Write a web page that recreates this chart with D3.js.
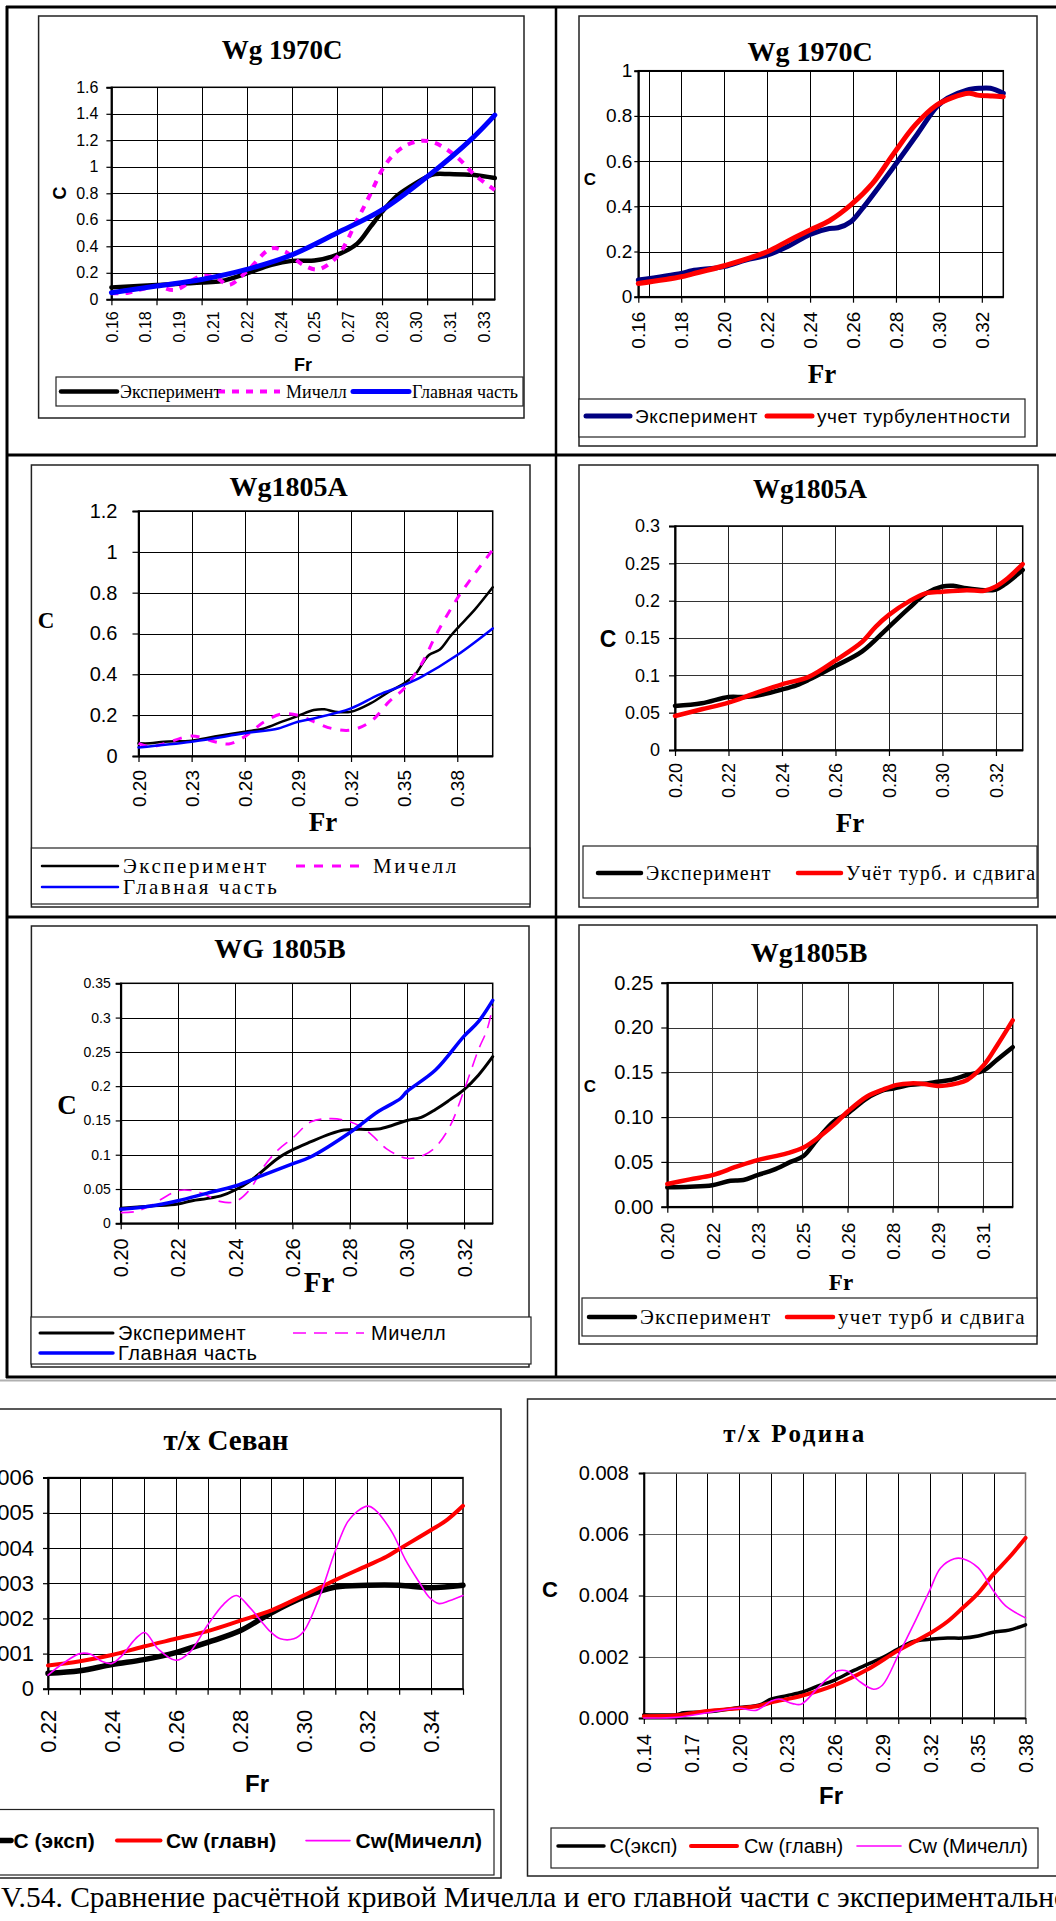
<!DOCTYPE html>
<html>
<head>
<meta charset="utf-8">
<script src="https://cdn.jsdelivr.net/npm/d3@7"></script>
<style>
  html, body { margin: 0; padding: 0; background: #fff; }
  svg { display: block; }
</style>
</head>
<body>
<script>
// ---------- data ----------
// Wg 1970C (Michell): category axis, 35 Fr steps, every 3rd labelled
const p1Cats = ["0.16","0.18","0.19","0.21","0.22","0.24","0.25","0.27","0.28","0.30","0.31","0.33"];
const p1YTicks = [0,0.2,0.4,0.6,0.8,1,1.2,1.4,1.6];
const p1Exp = [[0,0.09],[4,0.108],[8,0.126],[9.75,0.138],[12,0.196],[14.2,0.26],[16,0.29],[18,0.293],[20,0.335],[21.8,0.42],[23,0.55],[24,0.66],[25.25,0.775],[26.5,0.85],[28,0.925],[28.7,0.945],[30,0.945],[32,0.94],[34,0.915]];
const p1Mich = [[0,0.045],[1.5,0.05],[4,0.1],[5.6,0.07],[8,0.176],[9.4,0.158],[10.4,0.108],[12,0.21],[14.2,0.385],[15.4,0.36],[17,0.26],[18.3,0.226],[20,0.32],[21.8,0.6],[23,0.8],[24,0.976],[25,1.09],[26.2,1.165],[27.5,1.197],[28.7,1.18],[30.6,1.077],[32.2,0.94],[34,0.825]];
const p1Main = [[0,0.05],[4,0.1],[8,0.15],[12,0.226],[16,0.335],[20,0.5],[24,0.674],[28,0.925],[32,1.215],[34,1.39]];

// Wg 1970C (turbulence)
const p2XTicks = [0.16,0.18,0.20,0.22,0.24,0.26,0.28,0.30,0.32];
const p2YTicks = [0,0.2,0.4,0.6,0.8,1];
const p2Exp = [[0.16,0.074],[0.18,0.103],[0.185,0.115],[0.20,0.133],[0.21,0.162],[0.22,0.184],[0.23,0.224],[0.24,0.276],[0.249,0.302],[0.253,0.305],[0.259,0.332],[0.264,0.386],[0.279,0.575],[0.29,0.72],[0.299,0.84],[0.304,0.878],[0.313,0.914],[0.319,0.922],[0.324,0.922],[0.33,0.9]];
const p2Turb = [[0.16,0.058],[0.18,0.088],[0.185,0.1],[0.20,0.137],[0.22,0.199],[0.23,0.248],[0.24,0.295],[0.249,0.336],[0.259,0.406],[0.269,0.5],[0.279,0.634],[0.289,0.76],[0.299,0.848],[0.306,0.88],[0.314,0.9],[0.318,0.892],[0.325,0.888],[0.33,0.885]];

// Wg1805A (Michell)
const p3XTicks = [0.20,0.23,0.26,0.29,0.32,0.35,0.38];
const p3YTicks = [0,0.2,0.4,0.6,0.8,1,1.2];
const p3Exp = [[0.20,0.062],[0.2065,0.062],[0.2145,0.07],[0.23,0.075],[0.243,0.095],[0.26,0.119],[0.271,0.135],[0.281,0.168],[0.29,0.196],[0.299,0.225],[0.305,0.229],[0.311,0.217],[0.32,0.217],[0.331,0.258],[0.3415,0.315],[0.35,0.356],[0.356,0.397],[0.364,0.495],[0.37,0.52],[0.376,0.585],[0.38,0.625],[0.39,0.718],[0.40,0.826]];
const p3Mich = [[0.20,0.062],[0.2065,0.046],[0.2145,0.06],[0.23,0.098],[0.243,0.07],[0.251,0.059],[0.26,0.095],[0.271,0.168],[0.281,0.206],[0.29,0.2],[0.299,0.168],[0.309,0.135],[0.32,0.127],[0.331,0.168],[0.3415,0.266],[0.35,0.331],[0.36,0.454],[0.368,0.593],[0.38,0.772],[0.39,0.895],[0.40,1.01]];
const p3Main = [[0.20,0.042],[0.23,0.07],[0.26,0.111],[0.279,0.135],[0.29,0.168],[0.299,0.184],[0.32,0.233],[0.3355,0.299],[0.35,0.348],[0.36,0.389],[0.38,0.495],[0.40,0.625]];

// Wg1805A (turbulence and shear)
const p4XTicks = [0.20,0.22,0.24,0.26,0.28,0.30,0.32];
const p4YTicks = [0,0.05,0.1,0.15,0.2,0.25,0.3];
const p4Exp = [[0.20,0.059],[0.21,0.0625],[0.22,0.071],[0.2256,0.071],[0.23,0.0723],[0.24,0.081],[0.2456,0.087],[0.25,0.094],[0.26,0.1125],[0.27,0.132],[0.28,0.165],[0.2875,0.19],[0.294,0.21],[0.30,0.219],[0.304,0.22],[0.309,0.2165],[0.3156,0.214],[0.32,0.215],[0.323,0.221],[0.33,0.241]];
const p4Turb = [[0.20,0.0455],[0.21,0.0545],[0.22,0.0634],[0.23,0.076],[0.24,0.088],[0.25,0.098],[0.26,0.12],[0.27,0.145],[0.275,0.165],[0.28,0.181],[0.2875,0.199],[0.294,0.21],[0.30,0.212],[0.309,0.214],[0.3156,0.2134],[0.32,0.219],[0.3244,0.23],[0.33,0.249]];

// WG 1805B (Michell)
const p5XTicks = [0.20,0.22,0.24,0.26,0.28,0.30,0.32];
const p5YTicks = [0,0.05,0.1,0.15,0.2,0.25,0.3,0.35];
const p5Exp = [[0.20,0.0219],[0.21,0.025],[0.22,0.028],[0.225,0.033],[0.23,0.036],[0.235,0.04],[0.24,0.0486],[0.245,0.061],[0.25,0.078],[0.255,0.095],[0.26,0.107],[0.2665,0.119],[0.273,0.13],[0.278,0.136],[0.283,0.137],[0.29,0.1375],[0.295,0.143],[0.30,0.15],[0.305,0.1545],[0.31,0.166],[0.315,0.18],[0.32,0.195],[0.325,0.216],[0.33,0.243]];
const p5Mich = [[0.20,0.0155],[0.205,0.017],[0.21,0.025],[0.22,0.0476],[0.225,0.0476],[0.23,0.041],[0.235,0.0316],[0.24,0.0316],[0.245,0.0486],[0.25,0.0826],[0.255,0.107],[0.26,0.124],[0.2665,0.148],[0.273,0.1526],[0.278,0.1506],[0.283,0.143],[0.2877,0.129],[0.2928,0.109],[0.30,0.0948],[0.306,0.0996],[0.31,0.111],[0.315,0.141],[0.32,0.194],[0.325,0.253],[0.328,0.282],[0.33,0.316]];
const p5Main = [[0.20,0.0204],[0.21,0.025],[0.22,0.033],[0.23,0.0437],[0.24,0.0544],[0.25,0.0705],[0.26,0.0865],[0.2665,0.097],[0.28,0.132],[0.29,0.163],[0.2978,0.182],[0.30,0.192],[0.31,0.2235],[0.32,0.273],[0.325,0.294],[0.33,0.325]];

// Wg1805B (turbulence and shear): category axis, 24 Fr steps, every 3rd labelled
const p6Cats = ["0.20","0.22","0.23","0.25","0.26","0.28","0.29","0.31"];
const p6YTicks = [0,0.05,0.1,0.15,0.2,0.25];
const p6Exp = [[0,0.0216],[1.5,0.0223],[3,0.024],[4.2,0.029],[5.07,0.0298],[6,0.0353],[7.07,0.041],[8.2,0.05],[9.07,0.0565],[9.96,0.0744],[11.07,0.0949],[12,0.104],[13.3,0.121],[14.4,0.13],[15.07,0.132],[16.2,0.136],[17.3,0.1376],[18,0.1395],[18.84,0.1414],[19.96,0.147],[21.07,0.152],[21.96,0.164],[23,0.178]];
const p6Turb = [[0,0.0253],[1.5,0.0305],[3,0.0353],[4.6,0.0446],[6,0.052],[7.96,0.0595],[9.07,0.066],[10.2,0.079],[11.07,0.091],[12,0.106],[13.3,0.123],[14.4,0.131],[15.3,0.136],[16.2,0.1376],[17.1,0.137],[18,0.1347],[19.3,0.1376],[19.96,0.1414],[21.07,0.158],[21.96,0.18],[23,0.208]];

// т/х Севан
const p7XGrid = [0.22,0.23,0.24,0.25,0.26,0.27,0.28,0.29,0.30,0.31,0.32,0.33,0.34];
const p7XTicks = [0.22,0.24,0.26,0.28,0.30,0.32,0.34];
const p7YTicks = [0,0.001,0.002,0.003,0.004,0.005,0.006];
const p7Exp = [[0.22,0.00044],[0.23,0.00051],[0.24,0.00069],[0.25,0.00083],[0.26,0.00103],[0.27,0.00132],[0.28,0.00164],[0.29,0.00216],[0.30,0.0026],[0.31,0.00289],[0.32,0.00294],[0.33,0.00294],[0.34,0.00287],[0.35,0.00294]];
const p7Main = [[0.22,0.00066],[0.23,0.00078],[0.24,0.00096],[0.25,0.0012],[0.26,0.00142],[0.27,0.00164],[0.28,0.00193],[0.29,0.00223],[0.30,0.00265],[0.31,0.00309],[0.32,0.0035],[0.326,0.00375],[0.33,0.00397],[0.34,0.00451],[0.345,0.0048],[0.35,0.0052]];
const p7Mich = [[0.22,0.00039],[0.225,0.00074],[0.23,0.001],[0.2334,0.00098],[0.2368,0.00078],[0.24,0.00072],[0.243,0.00093],[0.2474,0.00142],[0.2503,0.0016],[0.2545,0.00113],[0.26,0.00081],[0.2643,0.00103],[0.27,0.00181],[0.275,0.0024],[0.279,0.00265],[0.2833,0.0023],[0.2897,0.00162],[0.2928,0.00142],[0.297,0.00142],[0.30,0.00162],[0.3046,0.0025],[0.31,0.00392],[0.3139,0.00475],[0.317,0.00505],[0.3202,0.00519],[0.3223,0.0051],[0.3277,0.00446],[0.3319,0.00368],[0.3362,0.00304],[0.3394,0.0026],[0.3425,0.00242],[0.3457,0.0025],[0.35,0.00265]];

// т/х Родина
const p8XGrid = [0.14,0.16,0.18,0.20,0.22,0.24,0.26,0.28,0.30,0.32,0.34,0.36];
const p8XTicks = [0.14,0.17,0.20,0.23,0.26,0.29,0.32,0.35,0.38];
const p8YTicks = [0,0.002,0.004,0.006,0.008];
const p8Exp = [[0.14,0.00011],[0.1606,0.00011],[0.165,0.00017],[0.18,0.0002],[0.20,0.00034],[0.2127,0.00043],[0.2204,0.00062],[0.2299,0.00073],[0.2398,0.00085],[0.2492,0.00104],[0.26,0.00124],[0.2708,0.00152],[0.2806,0.00175],[0.2901,0.00197],[0.2998,0.00225],[0.3095,0.0025],[0.3198,0.00257],[0.331,0.00261],[0.3406,0.00261],[0.3503,0.00268],[0.3596,0.0028],[0.3697,0.00287],[0.38,0.00304]];
const p8Main = [[0.14,0.00006],[0.1606,0.00009],[0.18,0.00023],[0.20,0.00032],[0.2127,0.0004],[0.2204,0.00051],[0.2398,0.00073],[0.26,0.00107],[0.2806,0.00158],[0.2998,0.0022],[0.3198,0.00276],[0.331,0.00315],[0.3406,0.0036],[0.3503,0.00408],[0.3596,0.00468],[0.3697,0.00524],[0.38,0.00588]];
const p8Mich = [[0.14,0.0],[0.1606,0.00002],[0.18,0.00017],[0.20,0.00032],[0.2105,0.00025],[0.2204,0.00056],[0.225,0.00062],[0.2336,0.00047],[0.239,0.00045],[0.249,0.00096],[0.2557,0.0013],[0.262,0.00154],[0.2685,0.00152],[0.275,0.00122],[0.2845,0.00094],[0.29,0.00107],[0.2998,0.00203],[0.3095,0.00304],[0.3198,0.00417],[0.3266,0.0049],[0.3352,0.0052],[0.3406,0.0052],[0.3503,0.0049],[0.3596,0.00417],[0.3675,0.00366],[0.38,0.00327]];

const captionText = "V.54. Сравнение расчётной кривой Мичелла и его главной части с экспериментальной";

// ---------- drawing ----------
const SANS = "'Liberation Sans', Arial, sans-serif";
const SERIF = "'Liberation Serif', 'Times New Roman', serif";

const svg = d3.select("body").append("svg").attr("width", 1056).attr("height", 1921);

// page table around the six upper charts
const table = svg.append("g").attr("stroke", "#000").attr("fill", "none");
table.append("line").attr("x1", 6).attr("x2", 1056).attr("y1", 7).attr("y2", 7).attr("stroke-width", 3);
table.append("line").attr("x1", 6).attr("x2", 1056).attr("y1", 455).attr("y2", 455).attr("stroke-width", 3);
table.append("line").attr("x1", 6).attr("x2", 1056).attr("y1", 917).attr("y2", 917).attr("stroke-width", 3);
table.append("line").attr("x1", 6).attr("x2", 1056).attr("y1", 1377).attr("y2", 1377).attr("stroke-width", 3);
table.append("line").attr("x1", 0).attr("x2", 1056).attr("y1", 1380.5).attr("y2", 1380.5).attr("stroke-width", 2).attr("stroke", "#b0b0b0");
table.append("line").attr("x1", 7).attr("x2", 7).attr("y1", 6).attr("y2", 1378).attr("stroke-width", 3);
table.append("line").attr("x1", 556).attr("x2", 556).attr("y1", 6).attr("y2", 1378).attr("stroke-width", 2.5);

function drawChart(o) {
  const g = svg.append("g");
  g.append("rect")
    .attr("x", o.box[0]).attr("y", o.box[1])
    .attr("width", o.box[2] - o.box[0]).attr("height", o.box[3] - o.box[1])
    .attr("fill", "#fff").attr("stroke", "#222").attr("stroke-width", 1.5);

  const x = d3.scaleLinear().domain(o.xDomain).range([o.plot[0], o.plot[2]]);
  const y = d3.scaleLinear().domain(o.yDomain).range([o.plot[3], o.plot[1]]);

  // grid
  const grid = g.append("g").attr("fill", "none").attr("stroke-width", 1);
  o.yTicks.forEach(v => {
    grid.append("line").attr("x1", o.plot[0]).attr("x2", o.plot[2])
      .attr("y1", Math.round(y(v)) + 0.5).attr("y2", Math.round(y(v)) + 0.5)
      .attr("stroke", o.gridH || "#000");
  });
  o.xGrid.forEach(v => {
    grid.append("line").attr("y1", o.plot[1]).attr("y2", o.plot[3])
      .attr("x1", Math.round(x(v)) + 0.5).attr("x2", Math.round(x(v)) + 0.5)
      .attr("stroke", o.gridV || "#000");
  });
  // plot frame
  g.append("rect")
    .attr("x", o.plot[0]).attr("y", o.plot[1])
    .attr("width", o.plot[2] - o.plot[0]).attr("height", o.plot[3] - o.plot[1])
    .attr("fill", "none").attr("stroke", o.frame || "#000").attr("stroke-width", 1.5);

  // y axis
  const ya = g.append("g").attr("transform", `translate(${o.plot[0]},0)`)
    .call(d3.axisLeft(y).tickValues(o.yTicks).tickFormat(o.yFmt)
      .tickSize(o.yTickLen).tickPadding(o.yPad));
  ya.select(".domain").attr("stroke", "#000").attr("stroke-width", 2);
  ya.selectAll(".tick line").attr("stroke", "#000").attr("stroke-width", 1.2);
  ya.selectAll(".tick text").attr("font-family", SANS).attr("font-size", o.yFont).attr("fill", "#000");

  // x axis: tick marks
  const xa = g.append("g").attr("transform", `translate(0,${o.plot[3]})`)
    .call(d3.axisBottom(x).tickValues(o.xTickMarks).tickFormat("").tickSize(6).tickSizeOuter(0));
  xa.select(".domain").attr("stroke", "#000").attr("stroke-width", 2);
  xa.selectAll(".tick line").attr("stroke", "#000").attr("stroke-width", 1.2);
  // x axis: rotated labels
  const xl = g.append("g").attr("transform", `translate(0,${o.plot[3]})`)
    .call(d3.axisBottom(x).tickValues(o.xLabelPos).tickFormat((d, i) => o.xLabelText[i]).tickSize(0));
  xl.select(".domain").remove();
  xl.selectAll(".tick text")
    .attr("font-family", SANS).attr("font-size", o.xFont).attr("fill", "#000")
    .attr("transform", "rotate(-90)").attr("text-anchor", "end")
    .attr("x", -o.xGap).attr("y", 0).attr("dy", "0.35em");

  // series
  const clipId = "clip" + Math.random().toString(36).slice(2);
  g.append("clipPath").attr("id", clipId).append("rect")
    .attr("x", o.plot[0] - 4).attr("y", o.plot[1] - 6)
    .attr("width", o.plot[2] - o.plot[0] + 8).attr("height", o.plot[3] - o.plot[1] + 10);
  const line = d3.line().x(d => x(d[0])).y(d => y(d[1])).curve(d3.curveCatmullRom.alpha(0.5));
  o.series.forEach(s => {
    g.append("path").datum(s.data)
      .attr("clip-path", `url(#${clipId})`)
      .attr("d", line).attr("fill", "none")
      .attr("stroke", s.color).attr("stroke-width", s.width)
      .attr("stroke-dasharray", s.dash || null)
      .attr("stroke-linejoin", "round").attr("stroke-linecap", s.dash ? "butt" : "round");
  });

  // title and axis names
  const t = o.title;
  g.append("text").text(t.text).attr("x", t.x).attr("y", t.y)
    .attr("text-anchor", "middle").attr("font-family", SERIF).attr("font-weight", "bold")
    .attr("font-size", t.size).attr("letter-spacing", t.ls || 0).attr("fill", "#000");
  const fr = o.frLabel;
  g.append("text").text("Fr").attr("x", fr.x).attr("y", fr.y)
    .attr("text-anchor", "middle").attr("font-family", fr.serif ? SERIF : SANS)
    .attr("font-weight", "bold").attr("font-size", fr.size).attr("fill", "#000");
  const c = o.cLabel;
  const ct = g.append("text").text("C").attr("font-family", c.serif ? SERIF : SANS)
    .attr("font-weight", "bold").attr("font-size", c.size).attr("fill", "#000")
    .attr("text-anchor", "middle");
  if (c.rotate) {
    ct.attr("transform", `translate(${c.x},${c.y}) rotate(-90)`).attr("dy", "0.35em");
  } else {
    ct.attr("x", c.x).attr("y", c.y);
  }

  // legend
  const L = o.legend;
  g.append("rect").attr("x", L.box[0]).attr("y", L.box[1])
    .attr("width", L.box[2] - L.box[0]).attr("height", L.box[3] - L.box[1])
    .attr("fill", "#fff").attr("stroke", "#222").attr("stroke-width", 1.2);
  L.items.forEach(it => {
    const s = o.series[it.s];
    g.append("line").attr("x1", it.x0).attr("x2", it.x1).attr("y1", it.y).attr("y2", it.y)
      .attr("stroke", s.color).attr("stroke-width", s.width)
      .attr("stroke-dasharray", s.dash || null).attr("stroke-linecap", s.dash ? "butt" : "round");
    g.append("text").text(it.text).attr("x", it.tx).attr("y", it.y).attr("dy", "0.35em")
      .attr("font-family", L.serif ? SERIF : SANS).attr("font-weight", L.bold ? "bold" : "normal")
      .attr("font-size", L.size).attr("letter-spacing", L.ls || 0).attr("fill", "#000");
  });
}

const fmt2 = d3.format(".2f");
const idx = (arr, step) => arr.map((_, i) => i * step);

// Wg 1970C — Michell vs main part
drawChart({
  box: [38.6, 16, 524, 418], plot: [111.4, 87.3, 494.8, 299.3],
  xDomain: [0, 34], yDomain: [0, 1.6],
  yTicks: p1YTicks, yFmt: d => String(d), yFont: 16, yTickLen: 5, yPad: 8,
  xGrid: idx(d3.range(9), 4), xTickMarks: idx(d3.range(9), 4),
  xLabelPos: idx(p1Cats, 3), xLabelText: p1Cats, xFont: 16, xGap: 12,
  series: [
    { data: p1Exp, color: "#000", width: 4.5 },
    { data: p1Mich, color: "#ff00ff", width: 4, dash: "7,7" },
    { data: p1Main, color: "#0000ff", width: 5 }
  ],
  title: { text: "Wg 1970C", x: 282, y: 59, size: 27 },
  frLabel: { x: 303, y: 371, size: 18 },
  cLabel: { x: 59.5, y: 193, size: 18, rotate: true },
  legend: { box: [56, 377, 523, 406], serif: true, size: 18, items: [
    { s: 0, x0: 61, x1: 117, y: 391.5, tx: 120, text: "Эксперимент" },
    { s: 1, x0: 218, x1: 280, y: 391.5, tx: 286, text: "Мичелл" },
    { s: 2, x0: 353, x1: 409, y: 391.5, tx: 412, text: "Главная часть" }
  ] }
});

// Wg 1970C — turbulence
drawChart({
  box: [579, 16, 1037, 446], plot: [638.3, 70.7, 1003.3, 296.7],
  xDomain: [0.16, 0.33], yDomain: [0, 1],
  yTicks: p2YTicks, yFmt: d => String(d), yFont: 19, yTickLen: 4, yPad: 2,
  xGrid: [0.165].concat(p2XTicks), xTickMarks: p2XTicks,
  xLabelPos: p2XTicks, xLabelText: p2XTicks.map(fmt2), xFont: 19, xGap: 15,
  series: [
    { data: p2Exp, color: "#000080", width: 5 },
    { data: p2Turb, color: "#ff0000", width: 5 }
  ],
  title: { text: "Wg 1970C", x: 810, y: 61, size: 28 },
  frLabel: { x: 822, y: 383, size: 27, serif: true },
  cLabel: { x: 590, y: 185, size: 17 },
  legend: { box: [579, 399, 1025, 437], size: 19, ls: 0.6, items: [
    { s: 0, x0: 586, x1: 630, y: 416, tx: 635, text: "Эксперимент" },
    { s: 1, x0: 767, x1: 812, y: 416, tx: 817, text: "учет турбулентности" }
  ] }
});

// Wg1805A — Michell vs main part
drawChart({
  box: [31.4, 465, 530, 907], plot: [138.5, 511, 492.7, 756],
  xDomain: [0.20, 0.40], yDomain: [0, 1.2],
  yTicks: p3YTicks, yFmt: d => String(d), yFont: 20, yTickLen: 6, yPad: 15,
  xGrid: p3XTicks, xTickMarks: p3XTicks,
  xLabelPos: p3XTicks, xLabelText: p3XTicks.map(fmt2), xFont: 19, xGap: 14,
  series: [
    { data: p3Exp, color: "#000", width: 2.5 },
    { data: p3Mich, color: "#ff00ff", width: 3, dash: "9,9" },
    { data: p3Main, color: "#0000ff", width: 2.5 }
  ],
  title: { text: "Wg1805A", x: 288.5, y: 496, size: 28 },
  frLabel: { x: 323, y: 831, size: 27, serif: true },
  cLabel: { x: 46, y: 628, size: 23, serif: true },
  legend: { box: [31.4, 848, 530, 904], serif: true, size: 21, ls: 2.5, items: [
    { s: 0, x0: 42, x1: 118, y: 866, tx: 123, text: "Эксперимент" },
    { s: 1, x0: 296, x1: 368, y: 866, tx: 373, text: "Мичелл" },
    { s: 2, x0: 42, x1: 118, y: 887, tx: 123, text: "Главная часть" }
  ] }
});

// Wg1805A — turbulence and shear
drawChart({
  box: [579, 465, 1038, 907], plot: [675, 526, 1022.7, 750],
  xDomain: [0.20, 0.33], yDomain: [0, 0.3],
  yTicks: p4YTicks, yFmt: d => String(d), yFont: 18, yTickLen: 6, yPad: 9,
  xGrid: p4XTicks, xTickMarks: p4XTicks,
  xLabelPos: p4XTicks, xLabelText: p4XTicks.map(fmt2), xFont: 18, xGap: 13,
  gridH: "#333", gridV: "#222",
  series: [
    { data: p4Exp, color: "#000", width: 4.5 },
    { data: p4Turb, color: "#ff0000", width: 4.5 }
  ],
  title: { text: "Wg1805A", x: 810, y: 498, size: 27 },
  frLabel: { x: 850, y: 832, size: 27, serif: true },
  cLabel: { x: 608, y: 647, size: 23 },
  legend: { box: [583, 846, 1037, 898], serif: true, size: 20, ls: 1.2, items: [
    { s: 0, x0: 598, x1: 641, y: 873, tx: 646, text: "Эксперимент" },
    { s: 1, x0: 798, x1: 841, y: 873, tx: 846, text: "Учёт турб. и сдвига" }
  ] }
});

// WG 1805B — Michell vs main part
drawChart({
  box: [31.4, 926, 529, 1367], plot: [120.7, 983.3, 492.7, 1223.3],
  xDomain: [0.20, 0.33], yDomain: [0, 0.35],
  yTicks: p5YTicks, yFmt: d => String(d), yFont: 14, yTickLen: 5, yPad: 5,
  xGrid: p5XTicks, xTickMarks: p5XTicks,
  xLabelPos: p5XTicks, xLabelText: p5XTicks.map(fmt2), xFont: 20, xGap: 15,
  series: [
    { data: p5Exp, color: "#000", width: 3 },
    { data: p5Mich, color: "#ff00ff", width: 1.6, dash: "13,8" },
    { data: p5Main, color: "#0000ff", width: 3.5 }
  ],
  title: { text: "WG 1805B", x: 280, y: 958, size: 28 },
  frLabel: { x: 319, y: 1292, size: 29, serif: true },
  cLabel: { x: 67, y: 1114, size: 27, serif: true },
  legend: { box: [31, 1317, 531, 1364], size: 20, ls: 0.5, items: [
    { s: 0, x0: 40, x1: 113, y: 1333, tx: 118, text: "Эксперимент" },
    { s: 1, x0: 293, x1: 364, y: 1333, tx: 371, text: "Мичелл" },
    { s: 2, x0: 40, x1: 113, y: 1353, tx: 118, text: "Главная часть" }
  ] }
});

// Wg1805B — turbulence and shear
drawChart({
  box: [579, 925, 1037, 1344], plot: [667.3, 982.7, 1012.7, 1206.7],
  xDomain: [0, 23], yDomain: [0, 0.25],
  yTicks: p6YTicks, yFmt: fmt2, yFont: 20, yTickLen: 6, yPad: 8,
  xGrid: idx(p6Cats, 3), xTickMarks: idx(p6Cats, 3),
  xLabelPos: idx(p6Cats, 3), xLabelText: p6Cats, xFont: 19, xGap: 16,
  gridH: "#333", gridV: "#333",
  series: [
    { data: p6Exp, color: "#000", width: 4.5 },
    { data: p6Turb, color: "#ff0000", width: 4.5 }
  ],
  title: { text: "Wg1805B", x: 809, y: 962, size: 28 },
  frLabel: { x: 841, y: 1290, size: 23, serif: true },
  cLabel: { x: 590, y: 1092, size: 17 },
  legend: { box: [582, 1298, 1037, 1336], serif: true, size: 21, ls: 1.2, items: [
    { s: 0, x0: 589, x1: 635, y: 1317, tx: 640, text: "Эксперимент" },
    { s: 1, x0: 787, x1: 833, y: 1317, tx: 838, text: "учет турб и сдвига" }
  ] }
});

// т/х Севан
drawChart({
  box: [-60, 1409, 501, 1878], plot: [48, 1477.6, 463, 1688.8],
  xDomain: [0.22, 0.35], yDomain: [0, 0.006],
  yTicks: p7YTicks, yFmt: d => String(d), yFont: 22, yTickLen: 5, yPad: 9,
  xGrid: p7XGrid, xTickMarks: p7XGrid.concat([0.35]),
  xLabelPos: p7XTicks, xLabelText: p7XTicks.map(fmt2), xFont: 22, xGap: 21,
  series: [
    { data: p7Exp, color: "#000", width: 5.5 },
    { data: p7Main, color: "#ff0000", width: 4 },
    { data: p7Mich, color: "#ff00ff", width: 1.6 }
  ],
  title: { text: "т/х Севан", x: 226, y: 1450, size: 29 },
  frLabel: { x: 257, y: 1792, size: 24 },
  cLabel: { x: -100, y: 1580, size: 20 },
  legend: { box: [-60, 1809.5, 494, 1875], size: 21, bold: true, items: [
    { s: 0, x0: -30, x1: 11, y: 1840.6, tx: 13.5, text: "C (эксп)" },
    { s: 1, x0: 117, x1: 160.5, y: 1840.6, tx: 166, text: "Cw (главн)" },
    { s: 2, x0: 306, x1: 350, y: 1840.6, tx: 355.6, text: "Cw(Мичелл)" }
  ] }
});

// т/х Родина
drawChart({
  box: [527.5, 1399, 1070, 1876], plot: [643.8, 1473, 1025.5, 1718],
  xDomain: [0.14, 0.38], yDomain: [0, 0.008],
  yTicks: p8YTicks, yFmt: d3.format(".3f"), yFont: 20, yTickLen: 5, yPad: 10,
  xGrid: p8XGrid, xTickMarks: p8XGrid.concat([0.38]),
  xLabelPos: p8XTicks, xLabelText: p8XTicks.map(fmt2), xFont: 20, xGap: 16,
  gridH: "#666", frame: "#777",
  series: [
    { data: p8Exp, color: "#000", width: 3.5 },
    { data: p8Main, color: "#ff0000", width: 4 },
    { data: p8Mich, color: "#ff00ff", width: 1.6 }
  ],
  title: { text: "т/х Родина", x: 795, y: 1442, size: 25, ls: 2.5 },
  frLabel: { x: 831, y: 1804, size: 24 },
  cLabel: { x: 550, y: 1597, size: 22 },
  legend: { box: [551, 1828, 1038, 1868], size: 20, items: [
    { s: 0, x0: 558, x1: 604, y: 1846, tx: 609.6, text: "С(эксп)" },
    { s: 1, x0: 691, x1: 737, y: 1846, tx: 744, text: "Cw (главн)" },
    { s: 2, x0: 857, x1: 901, y: 1846, tx: 908, text: "Cw (Мичелл)" }
  ] }
});

// figure caption
svg.append("text").text(captionText).attr("x", 1).attr("y", 1907)
  .attr("font-family", SERIF).attr("font-size", 29.5).attr("fill", "#000");
</script>
</body>
</html>
